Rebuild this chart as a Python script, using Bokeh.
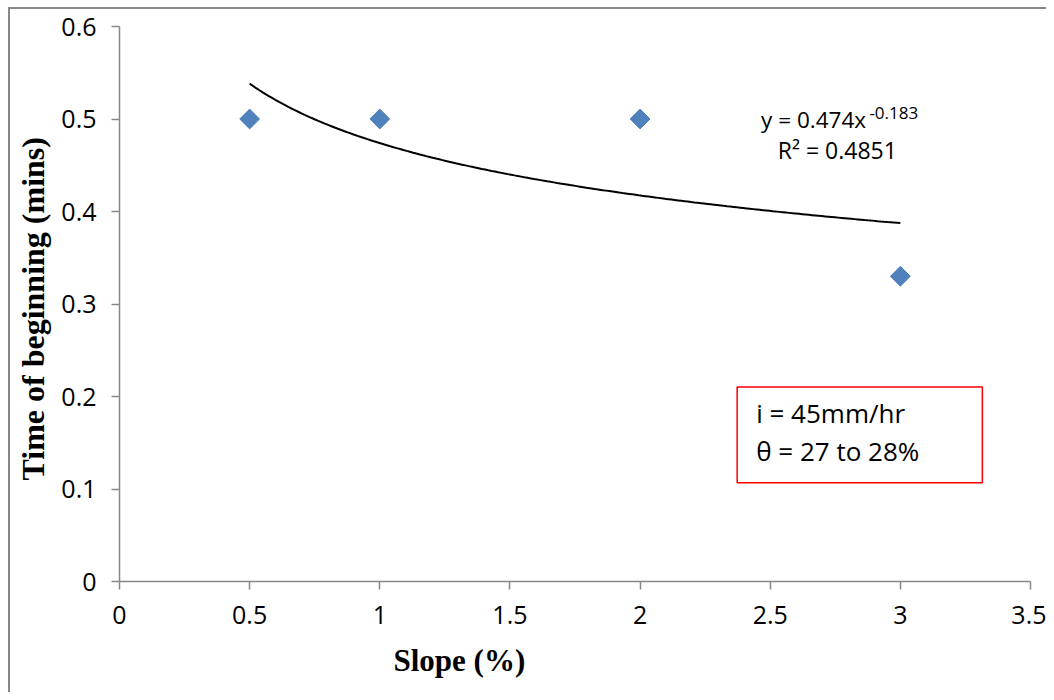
import numpy as np
from bokeh.plotting import figure
from bokeh.models import Label, BoxAnnotation, Range1d, FixedTicker, Title
from bokeh.embed import file_html
from bokeh.resources import INLINE

# ---- data ----
slope = [0.5, 1, 2, 3]
time_begin = [0.5, 0.5, 0.5, 0.33]
x_ticks = [0, 0.5, 1, 1.5, 2, 2.5, 3, 3.5]
x_tick_labels = ["0", "0.5", "1", "1.5", "2", "2.5", "3", "3.5"]
y_ticks = [0, 0.1, 0.2, 0.3, 0.4, 0.5, 0.6]
y_tick_labels = ["0", "0.1", "0.2", "0.3", "0.4", "0.5", "0.6"]

# power trendline fitted from the data (y = a x^b)
b, ln_a = np.polyfit(np.log(slope), np.log(time_begin), 1)
a = float(np.exp(ln_a))
fit_x = np.linspace(min(slope), max(slope), 200)
fit_y = a * fit_x ** b

FONT = "Open Sans"
SERIF = "Liberation Serif"

p = figure(width=1046, height=692, output_backend="svg", toolbar_location=None,
           x_range=Range1d(0, 3.5), y_range=Range1d(0, 0.6),
           min_border_left=119, min_border_top=26, min_border_right=16, min_border_bottom=110,
           border_fill_color=None, background_fill_color="white",
           styles={"box-shadow": "inset 8px 7px 0 0 white, inset 10px 9px 0 0 #888888"})
p.outline_line_color = None
p.xgrid.visible = False
p.ygrid.visible = False

for ax, ticks, labels in ((p.xaxis[0], x_ticks, x_tick_labels), (p.yaxis[0], y_ticks, y_tick_labels)):
    ax.ticker = FixedTicker(ticks=ticks)
    ax.major_label_overrides = {t: l for t, l in zip(ticks, labels)}
    ax.axis_line_color = "#888888"
    ax.axis_line_width = 1.5
    ax.major_tick_line_color = "#888888"
    ax.major_tick_line_width = 1.5
    ax.major_tick_in = 0
    ax.major_tick_out = 8
    ax.minor_tick_line_color = None
    ax.major_label_text_font = FONT
    ax.major_label_text_font_size = "25px"
    ax.major_label_text_color = "black"
p.xaxis.major_label_standoff = 16
p.yaxis.major_label_standoff = 15

# trendline and points
p.line(fit_x, fit_y, line_color="black", line_width=2)
p.scatter(slope, time_begin, marker="square", size=14, angle=np.pi / 4,
          fill_color="#4F81BD", line_color="#4A7EBB", line_width=1)

# axis titles
p.add_layout(Title(text="Slope (%)", text_font=SERIF, text_font_style="bold", text_font_size="31px",
                   text_color="black", align="left", offset=274, standoff=29), "below")
p.add_layout(Title(text="Time of beginning (mins)", text_font=SERIF, text_font_style="bold",
                   text_font_size="32px", text_color="black", align="left", offset=101,
                   standoff=15), "left")

# trendline equation
p.add_layout(Label(x=2.465, y=0.4996, text="y = %.3fx" % a, text_font=FONT, text_font_size="22.5px",
                   text_color="black", text_align="left", text_baseline="middle"))
p.add_layout(Label(x=2.881, y=0.507, text="%.3f" % b, text_font=FONT, text_font_size="17px",
                   text_color="black", text_align="left", text_baseline="middle"))
p.add_layout(Label(x=2.758, y=0.466, text="R² = 0.4851", text_font=FONT, text_font_size="23px",
                   text_color="black", text_align="center", text_baseline="middle"))

# info box
p.add_layout(BoxAnnotation(left=2.373, right=3.315, bottom=0.1068, top=0.2104,
                           fill_alpha=0, line_color="red", line_alpha=1, line_width=1.5))
p.add_layout(Label(x=2.446, y=0.1824, text="i = 45mm/hr", text_font=FONT, text_font_size="26px",
                   text_color="black", text_align="left", text_baseline="middle"))
p.add_layout(Label(x=2.446, y=0.1414, text="θ = 27 to 28%", text_font=FONT, text_font_size="26px",
                   text_color="black", text_align="left", text_baseline="middle"))

open("out.html", "w").write(file_html(p, INLINE))
